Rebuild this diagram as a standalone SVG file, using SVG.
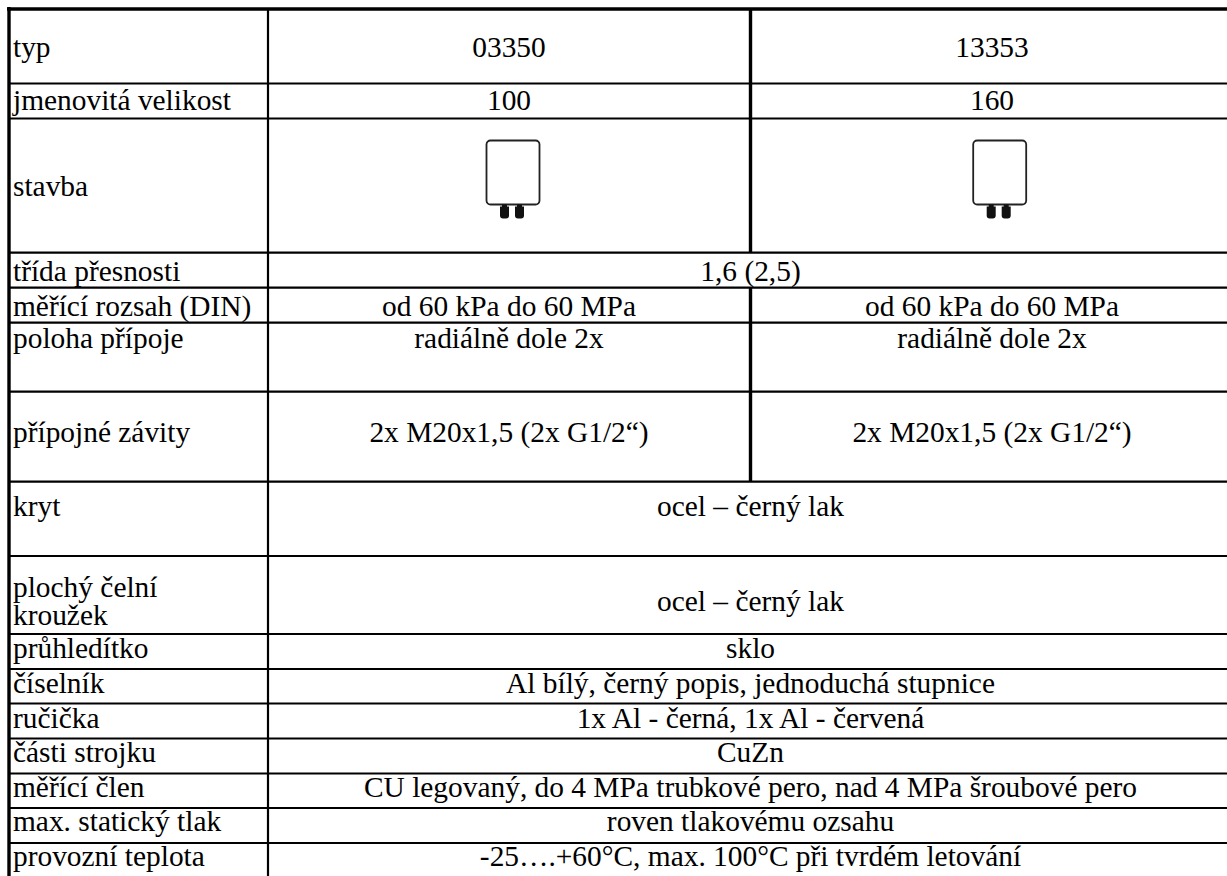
<svg xmlns="http://www.w3.org/2000/svg" width="1227" height="876" viewBox="0 0 1227 876">
<style>
text{font-family:"Liberation Serif","Times New Roman",serif;font-size:29.4px;fill:#000}
.c{text-anchor:middle}
.h{stroke:#000;stroke-width:2.2}
.thick{stroke:#000;stroke-width:3.4}
.gbody{fill:#fff;stroke:#222;stroke-width:1.8}
.stub{fill:#111}
</style>
<defs>
<g id="gauge">
<rect class="gbody" x="-26.5" y="0" width="53" height="64" rx="4"/>
<rect class="stub" x="-11" y="64" width="5" height="3"/>
<rect class="stub" x="4" y="64" width="5" height="3"/>
<path class="stub" d="M-13 66 h9 v9 q0 3 -3 3 h-3 q-3 0 -3 -3 z"/>
<path class="stub" d="M2 66 h9 v9 q0 3 -3 3 h-3 q-3 0 -3 -3 z"/>
</g>
</defs>
<rect width="1227" height="876" fill="#fff"/>
<g id="connectors">
<line class="thick" x1="7" y1="9" x2="1235" y2="9"/>
<line class="thick" x1="9" y1="7" x2="9" y2="876"/>
<line class="h" x1="268" y1="9" x2="268" y2="876" stroke-width="2"/>
<line class="thick" x1="750.5" y1="9" x2="750.5" y2="252.7"/>
<line class="thick" x1="750.5" y1="287.7" x2="750.5" y2="481.7"/>
<line class="h" x1="9" y1="83.5" x2="1235" y2="83.5"/>
<line class="h" x1="9" y1="118.5" x2="1235" y2="118.5"/>
<line class="h" x1="9" y1="252.7" x2="1235" y2="252.7"/>
<line class="h" x1="9" y1="287.7" x2="1235" y2="287.7"/>
<line class="h" x1="9" y1="322.7" x2="1235" y2="322.7"/>
<line class="h" x1="9" y1="391.7" x2="1235" y2="391.7"/>
<line class="h" x1="9" y1="481.7" x2="1235" y2="481.7"/>
<line class="h" x1="9" y1="556" x2="1235" y2="556"/>
<line class="h" x1="9" y1="634" x2="1235" y2="634"/>
<line class="h" x1="9" y1="669" x2="1235" y2="669"/>
<line class="h" x1="9" y1="703.5" x2="1235" y2="703.5"/>
<line class="h" x1="9" y1="738.5" x2="1235" y2="738.5"/>
<line class="h" x1="9" y1="773.5" x2="1235" y2="773.5"/>
<line class="h" x1="9" y1="808" x2="1235" y2="808"/>
<line class="h" x1="9" y1="843" x2="1235" y2="843"/>
</g>
<g id="row-typ"><text x="13" y="56.5">typ</text><text class="c" x="509" y="56.5">03350</text><text class="c" x="992" y="56.5">13353</text></g>
<g id="row-velikost"><text x="13" y="109.5">jmenovitá velikost</text><text class="c" x="509" y="109.5">100</text><text class="c" x="992" y="109.5">160</text></g>
<g id="row-stavba"><text x="13" y="196">stavba</text><use href="#gauge" x="513" y="140.5"/><use href="#gauge" x="999.7" y="140.5"/></g>
<g id="row-trida"><text x="13" y="280.5">třída přesnosti</text><text class="c" x="750.5" y="280.5">1,6 (2,5)</text></g>
<g id="row-rozsah"><text x="13" y="315.5">měřící rozsah (DIN)</text><text class="c" x="509" y="315.5">od 60 kPa do 60 MPa</text><text class="c" x="992" y="315.5">od 60 kPa do 60 MPa</text></g>
<g id="row-poloha"><text x="13" y="347.5">poloha přípoje</text><text class="c" x="509" y="347.5">radiálně dole 2x</text><text class="c" x="992" y="347.5">radiálně dole 2x</text></g>
<g id="row-zavity"><text x="13" y="441.5">přípojné závity</text><text class="c" x="509" y="441.5">2x M20x1,5 (2x G1/2“)</text><text class="c" x="992" y="441.5">2x M20x1,5 (2x G1/2“)</text></g>
<g id="row-kryt"><text x="13" y="516">kryt</text><text class="c" x="750.5" y="516">ocel – černý lak</text></g>
<g id="row-krouzek"><text x="13" y="597">plochý čelní</text><text x="13" y="624.5">kroužek</text><text class="c" x="750.5" y="611">ocel – černý lak</text></g>
<g id="row-pruhleditko"><text x="13" y="658">průhledítko</text><text class="c" x="750.5" y="658">sklo</text></g>
<g id="row-ciselnik"><text x="13" y="693">číselník</text><text class="c" x="750.5" y="693">Al bílý, černý popis, jednoduchá stupnice</text></g>
<g id="row-rucicka"><text x="13" y="727.5">ručička</text><text class="c" x="750.5" y="727.5">1x Al - černá, 1x Al - červená</text></g>
<g id="row-strojek"><text x="13" y="762">části strojku</text><text class="c" x="750.5" y="762">CuZn</text></g>
<g id="row-clen"><text x="13" y="796.5">měřící člen</text><text class="c" x="750.5" y="796.5">CU legovaný, do 4 MPa trubkové pero, nad 4 MPa šroubové pero</text></g>
<g id="row-tlak"><text x="13" y="831">max. statický tlak</text><text class="c" x="750.5" y="831">roven tlakovému ozsahu</text></g>
<g id="row-teplota"><text x="13" y="866">provozní teplota</text><text class="c" x="750.5" y="866">-25….+60°C, max. 100°C při tvrdém letování</text></g>
</svg>
